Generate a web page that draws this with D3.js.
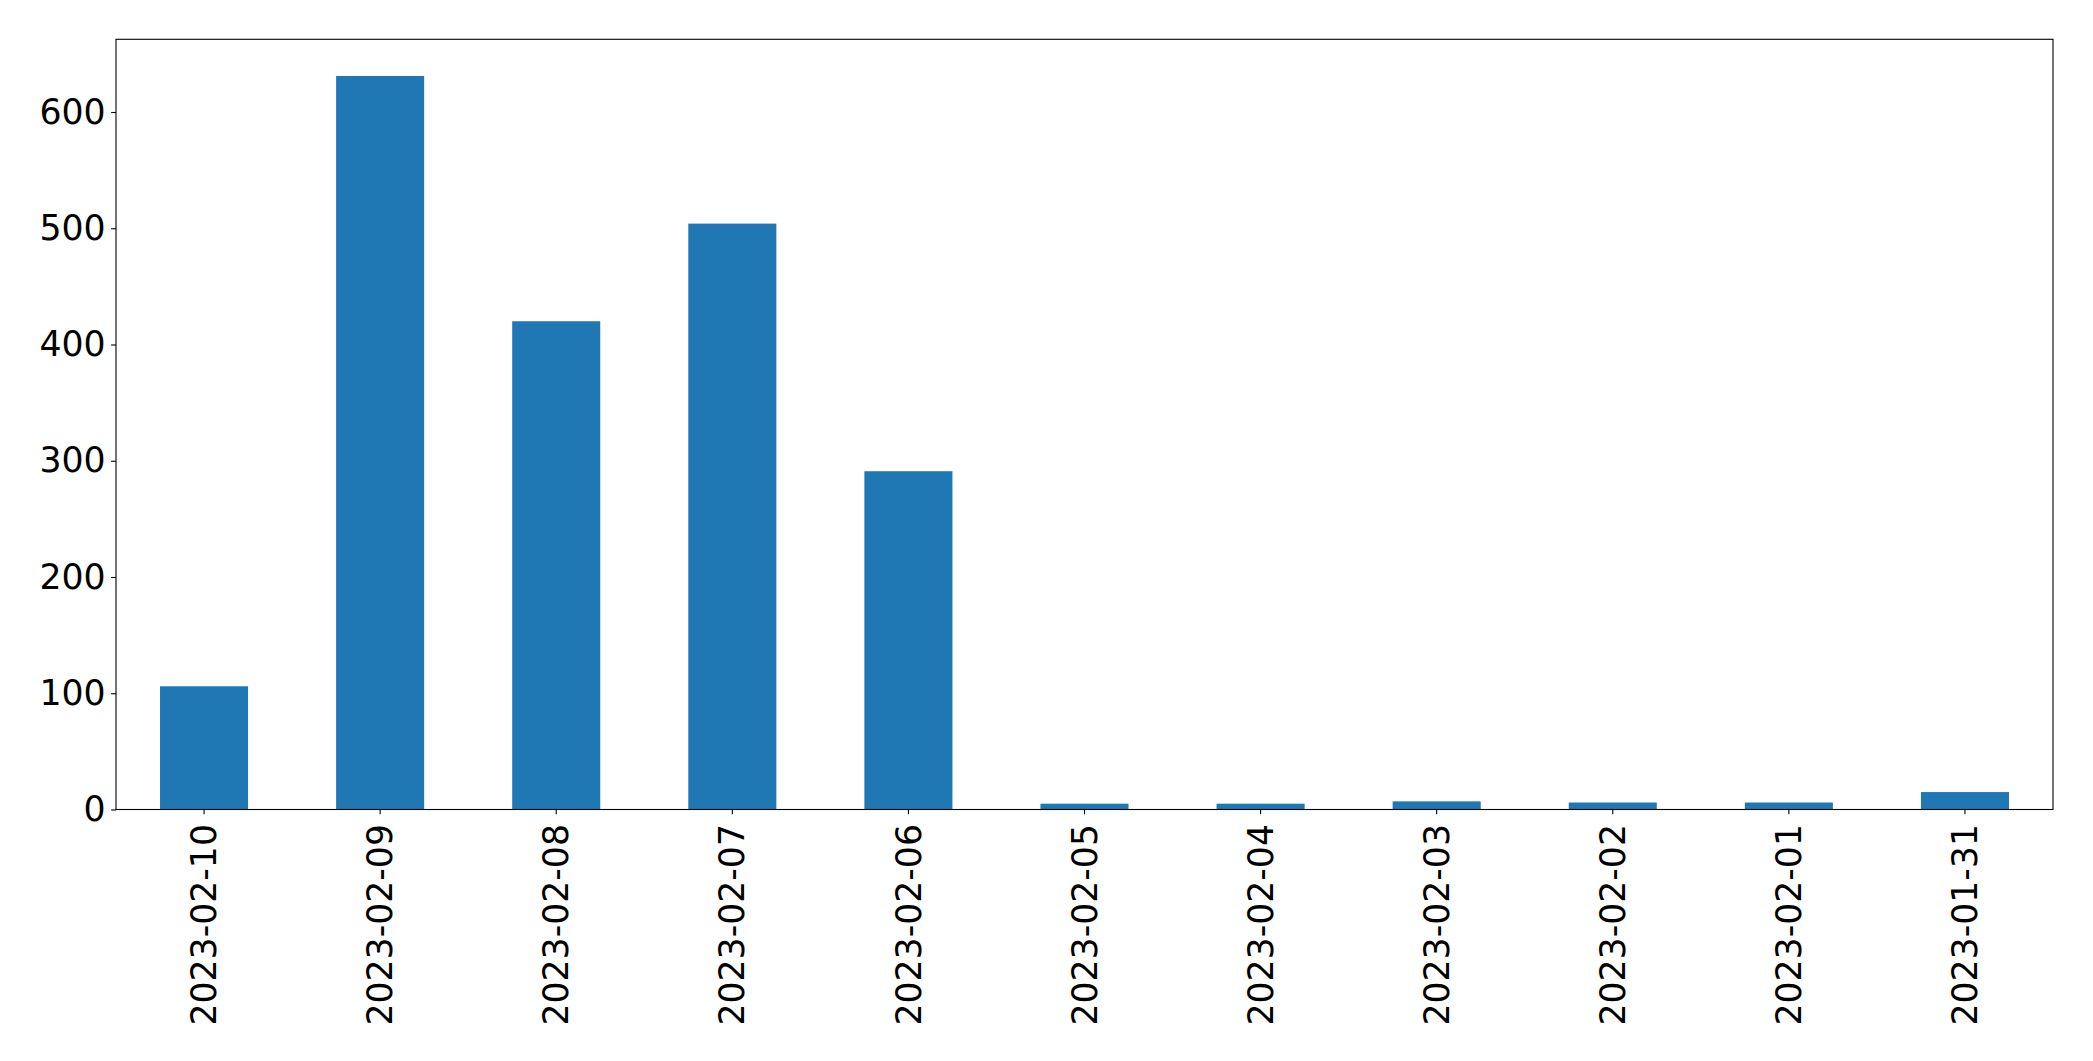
<!DOCTYPE html>
<html>
<head>
<meta charset="utf-8">
<script src="https://cdn.jsdelivr.net/npm/d3@7"></script>
<style>
  html, body { margin: 0; padding: 0; background: #ffffff; }
  svg { display: block; }
  text { font-family: "DejaVu Sans", sans-serif; }
</style>
</head>
<body>
<script>
// ---- data ----
const categories = ["2023-02-10", "2023-02-09", "2023-02-08", "2023-02-07", "2023-02-06",
                    "2023-02-05", "2023-02-04", "2023-02-03", "2023-02-02", "2023-02-01", "2023-01-31"];
const values = [106, 631, 420, 504, 291, 5, 5, 7, 6, 6, 15];
const yTicks = [0, 100, 200, 300, 400, 500, 600];

// ---- layout ----
const W = 2093, H = 1061;
const margin = { left: 116, right: W - 2053, top: 39.3, bottom: H - 809.5 };
const innerW = W - margin.left - margin.right;
const innerH = H - margin.top - margin.bottom;
const fontPx = 34.7;
const tickLen = 4.86, pad = 5.5;

const svg = d3.select("body").append("svg").attr("width", W).attr("height", H);
const g = svg.append("g").attr("transform", `translate(${margin.left},${margin.top})`);

const x = d3.scaleBand().domain(categories).range([0, innerW]).paddingInner(0.5).paddingOuter(0.25);
const yMax = d3.max(values) * 1.05;
const y = d3.scaleLinear().domain([0, yMax]).range([innerH, 0]);

// bars
g.selectAll("rect.bar").data(categories).enter().append("rect")
  .attr("class", "bar")
  .attr("x", d => x(d))
  .attr("width", x.bandwidth())
  .attr("y", (d, i) => y(values[i]))
  .attr("height", (d, i) => y(0) - y(values[i]))
  .attr("fill", "#1f77b4");

// y axis
const yAxis = d3.axisLeft(y).tickValues(yTicks).tickSize(tickLen).tickPadding(pad).tickFormat(d3.format("d"));
const yg = g.append("g").call(yAxis);
yg.select(".domain").remove();
yg.selectAll(".tick line").attr("stroke", "#000").attr("stroke-width", 1.1);
yg.selectAll(".tick text").attr("font-size", fontPx).attr("fill", "#000")
  .attr("font-family", "DejaVu Sans, sans-serif");

// x axis
const xAxis = d3.axisBottom(x).tickSize(tickLen).tickPadding(pad);
const xg = g.append("g").attr("transform", `translate(0,${innerH})`).call(xAxis);
xg.select(".domain").remove();
xg.selectAll(".tick line").attr("stroke", "#000").attr("stroke-width", 1.1);
xg.selectAll(".tick text")
  .attr("font-size", fontPx).attr("fill", "#000")
  .attr("font-family", "DejaVu Sans, sans-serif")
  .attr("transform", "rotate(-90)")
  .attr("text-anchor", "end")
  .attr("x", -14.5)
  .attr("y", 0)
  .attr("dy", "0.35em");

// frame
g.append("rect").attr("x", 0).attr("y", 0).attr("width", innerW).attr("height", innerH)
  .attr("fill", "none").attr("stroke", "#000").attr("stroke-width", 1.1);
</script>
</body>
</html>
